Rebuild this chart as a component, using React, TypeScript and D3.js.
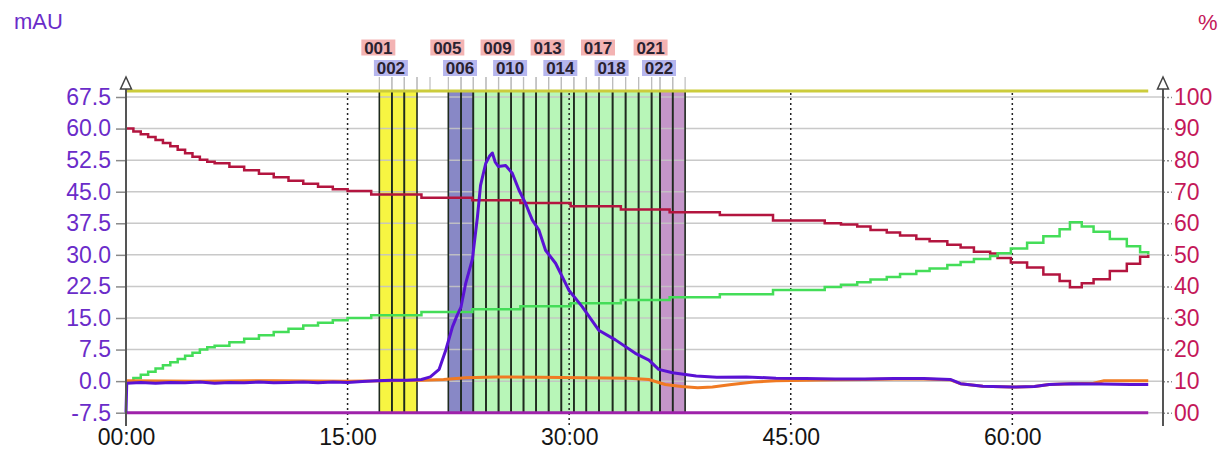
import React, { useEffect, useRef } from "react";
import * as d3 from "d3";

// axis ticks
const timeTicks = [0, 15, 30, 45, 60];
const timeTickLabels = ["00:00", "15:00", "30:00", "45:00", "60:00"];
const mauTicks = [-7.5, 0, 7.5, 15, 22.5, 30, 37.5, 45, 52.5, 60, 67.5];
const mauTickLabels = ["-7.5", "0.0", "7.5", "15.0", "22.5", "30.0", "37.5", "45.0", "52.5", "60.0", "67.5"];
const pctTicks = [0, 10, 20, 30, 40, 50, 60, 70, 80, 90, 100];
const pctTickLabels = ["00", "10", "20", "30", "40", "50", "60", "70", "80", "90", "100"];

// UV trace (mAU), minutes
const uvTime = [0, 0.05, 1, 2, 3, 4, 5, 6, 7, 8, 9, 10, 11, 12, 13, 14, 15, 16, 17, 18, 19, 20, 20.6, 21.2, 21.65, 22.1, 22.4, 22.67, 23.0, 23.45, 23.79, 24.0, 24.35, 24.6, 24.8, 25.0, 25.2, 25.7, 26.15, 26.6, 27.05, 27.5, 27.95, 28.4, 29.08, 29.98, 30.88, 32.0, 33.13, 34.48, 35.4, 36.06, 37.0, 38.6, 40, 42, 44, 46, 48, 50, 52, 54, 55.8, 56.5, 58, 60, 61.5, 62.5, 64, 66, 68, 69.2];
const uvValue = [-7.5, -0.5, -0.3, -0.5, -0.3, -0.4, -0.2, -0.5, -0.3, -0.4, -0.2, -0.4, -0.3, -0.2, -0.4, -0.2, -0.3, -0.1, 0.1, 0.2, 0.2, 0.4, 1.0, 2.8, 7.4, 12.9, 15.5, 17.5, 23.3, 29.0, 39.0, 46.5, 51.7, 53.4, 54.2, 52.0, 51.0, 51.2, 49.4, 45.4, 42.2, 38.3, 35.9, 31.1, 28.0, 21.6, 17.7, 12.1, 9.8, 6.6, 5.0, 2.8, 2.0, 1.2, 0.9, 1.0, 0.7, 0.6, 0.5, 0.5, 0.6, 0.6, 0.4, -0.6, -1.2, -1.4, -1.3, -0.8, -0.6, -0.7, -0.8, -0.8];

// orange trace (mAU scale)
const condTime = [0, 5, 10, 15, 20, 21.5, 23, 25, 28, 31, 34, 35.4, 36.5, 37.6, 38.7, 39.7, 41.0, 42.5, 44, 46, 48, 50, 52, 54, 55.8, 56.5, 58, 60, 61.5, 62.5, 64, 65.5, 66.2, 69.2];
const condValue = [0.1, 0.0, 0.1, 0.0, 0.2, 0.4, 0.8, 1.0, 0.9, 0.8, 0.7, 0.4, -0.8, -1.3, -1.6, -1.4, -0.8, -0.2, 0.1, 0.2, 0.3, 0.4, 0.5, 0.5, 0.3, -0.6, -1.2, -1.4, -1.3, -0.8, -0.6, -0.5, 0.1, 0.1];

// red gradient trace (%)
const redTime = [0, 0.5, 1, 1.5, 2, 2.5, 3, 3.5, 4, 4.5, 5, 5.5, 6, 7, 8, 9, 10, 11, 12, 13, 14, 15, 16.6, 20, 23.45, 26.7, 30.1, 33.5, 36.8, 40.2, 43.8, 47.3, 48.4, 49.5, 50.4, 51.5, 52.4, 53.5, 54.4, 55.6, 56.5, 57.4, 58.5, 59.0, 59.9, 61.0, 62.1, 63.2, 63.9, 64.7, 65.5, 66.6, 67.75, 68.65, 69.2];
const redValue = [90, 89.1, 88.2, 87.3, 86.4, 85.4, 84.4, 83.3, 82.2, 81.1, 80.1, 79.5, 79.0, 77.9, 76.8, 75.7, 74.6, 73.5, 72.5, 71.6, 70.8, 70.2, 69.1, 68.1, 67.3, 66.4, 65.4, 64.4, 63.5, 62.6, 60.9, 60.0, 59.6, 59.0, 57.9, 57.1, 56.1, 55.0, 54.3, 53.2, 52.3, 51.0, 50.4, 49.0, 47.6, 46.0, 43.8, 41.7, 39.7, 41.0, 42.3, 44.9, 47.2, 49.4, 50.0];

// green gradient trace (%)
const greenTime = [0, 0.5, 1, 1.5, 2, 2.5, 3, 3.5, 4, 4.5, 5, 5.5, 6, 7, 8, 9, 10, 11, 12, 13, 14, 15, 16.6, 20, 23.45, 26.7, 30.1, 33.5, 36.8, 40.2, 43.8, 47.3, 48.4, 49.5, 50.4, 51.5, 52.4, 53.5, 54.4, 55.6, 56.5, 57.4, 58.5, 59.0, 59.9, 61.0, 62.1, 63.2, 63.9, 64.7, 65.5, 66.6, 67.75, 68.65, 69.2];
const greenValue = [10, 11.0, 12.0, 13.0, 14.0, 15.0, 16.0, 17.0, 18.0, 19.0, 20.0, 20.7, 21.2, 22.3, 23.4, 24.5, 25.6, 26.6, 27.6, 28.5, 29.3, 30.0, 30.9, 31.9, 32.8, 33.7, 34.7, 35.7, 36.6, 37.5, 38.9, 39.8, 40.5, 41.3, 42.2, 43.0, 43.9, 44.9, 45.7, 46.8, 47.7, 48.7, 49.6, 50.5, 52.0, 53.8, 55.9, 58.1, 60.3, 59.0, 57.3, 55.0, 52.7, 50.8, 50.2];

// flat traces: top (%), bottom (mAU)
const topTraceTime = [0, 69.2];
const topTraceValue = [101.9, 101.9];
const bottomTraceTime = [0, 69.2];
const bottomTraceValue = [-7.5, -7.5];

// fractions
const fractionNames = ["001", "002", "003", "004", "005", "006", "007", "008", "009", "010", "011", "012", "013", "014", "015", "016", "017", "018", "019", "020", "021", "022", "023"];
const fractionStart = [17.15, 18.0, 18.84, 19.7, 21.82, 22.68, 23.51, 24.37, 25.22, 26.07, 26.91, 27.76, 28.61, 29.47, 30.32, 31.16, 32.02, 32.94, 33.82, 34.7, 35.58, 36.15, 37.01];
const fractionEnd = [18.0, 18.84, 19.7, 20.58, 22.68, 23.51, 24.37, 25.22, 26.07, 26.91, 27.76, 28.61, 29.47, 30.32, 31.16, 32.02, 32.94, 33.82, 34.7, 35.58, 36.15, 37.01, 37.85];
const fractionGroup = ["a", "a", "a", "none", "b", "b", "c", "c", "c", "c", "c", "c", "c", "c", "c", "c", "c", "c", "c", "c", "c", "d", "d"];
const labeledFractions = ["001", "002", "005", "006", "009", "010", "013", "014", "017", "018", "021", "022"];

const groupColor: Record<string, string> = { a: "#f7f542", b: "#8888c6", c: "#b8f6b8", d: "#c496c9" };

const FONT = "Liberation Sans, Arial, sans-serif";

export default function App() {
  const ref = useRef<SVGSVGElement>(null);

  useEffect(() => {
    const width = 1227;
    const height = 452;
    const svg = d3.select(ref.current).attr("width", width).attr("height", height);
    svg.selectAll("*").remove();

    const left = 126, right = 1163;
    const top = 97, bottom = 412.7;

    const x = d3.scaleLinear().domain([0, 70.2]).range([left, right]);
    const yMau = d3.scaleLinear().domain([-7.5, 67.5]).range([bottom, top]);
    const yPct = d3.scaleLinear().domain([0, 100]).range([bottom, top]);
    const headerY = yPct(101.9);

    svg.append("rect").attr("width", width).attr("height", height).attr("fill", "#fff");

    // fraction fills
    const fr = fractionNames.map((n, i) => ({ n, s: fractionStart[i], e: fractionEnd[i], g: fractionGroup[i] }));
    svg.append("g").selectAll("rect").data(fr.filter(d => d.g !== "none")).join("rect")
      .attr("x", d => x(d.s)).attr("width", d => x(d.e) - x(d.s))
      .attr("y", headerY).attr("height", bottom - headerY)
      .attr("fill", d => groupColor[d.g]);

    // horizontal grid
    svg.append("g").selectAll("line").data(mauTicks).join("line")
      .attr("x1", left).attr("x2", right)
      .attr("y1", d => yMau(d)).attr("y2", d => yMau(d))
      .attr("stroke", "#c4c4c4").attr("stroke-width", 1.5).attr("opacity", 0.9);

    // dotted time grid
    svg.append("g").selectAll("line").data(timeTicks.filter(t => t > 0)).join("line")
      .attr("x1", d => x(d)).attr("x2", d => x(d))
      .attr("y1", headerY + 2).attr("y2", bottom + 13)
      .attr("stroke", "#222").attr("stroke-width", 1.5).attr("stroke-dasharray", "2,3");

    // fraction boundary lines inside plot
    const darkEdges: number[] = [];
    fr.filter(d => d.g !== "none").forEach(d => { darkEdges.push(d.s); darkEdges.push(d.e); });
    svg.append("g").selectAll("line").data(darkEdges).join("line")
      .attr("x1", d => x(d)).attr("x2", d => x(d))
      .attr("y1", headerY).attr("y2", bottom)
      .attr("stroke", "#1e2a1e").attr("stroke-width", 1.6);

    // fraction ticks above header
    const allEdges: number[] = [];
    fr.forEach(d => { allEdges.push(d.s); allEdges.push(d.e); });
    svg.append("g").selectAll("line").data(allEdges).join("line")
      .attr("x1", d => x(d)).attr("x2", d => x(d))
      .attr("y1", 77).attr("y2", headerY)
      .attr("stroke", "#bdbdbd").attr("stroke-width", 1.2);

    // fraction labels
    const lab = svg.append("g");
    labeledFractions.forEach((n, i) => {
      const idx = fractionNames.indexOf(n);
      const cx = x(fractionStart[idx]) - 1;
      const cy = i % 2 === 0 ? 47.5 : 68;
      lab.append("rect").attr("x", cx - 17).attr("y", cy - 8).attr("width", 34).attr("height", 16)
        .attr("fill", i % 2 === 0 ? "#f3b3b3" : "#b6b6ee");
      lab.append("text").attr("x", cx).attr("y", cy + 6).attr("text-anchor", "middle")
        .attr("font-family", FONT).attr("font-size", 17).attr("font-weight", "bold")
        .attr("fill", "#2a2230").text(n);
    });

    const line = (xs: number[], ys: number[], ys2: (v: number) => number, curve: d3.CurveFactory) =>
      d3.line<number>().x((_, i) => x(xs[i])).y((v) => ys2(v)).curve(curve)(ys);

    // flat traces
    svg.append("path").attr("d", line(topTraceTime, topTraceValue, yPct, d3.curveLinear))
      .attr("fill", "none").attr("stroke", "#cccc3c").attr("stroke-width", 3);
    svg.append("path").attr("d", line(bottomTraceTime, bottomTraceValue, yMau, d3.curveLinear))
      .attr("fill", "none").attr("stroke", "#9e22aa").attr("stroke-width", 3);

    // gradient traces
    svg.append("path").attr("d", line(redTime, redValue, yPct, d3.curveStepAfter))
      .attr("fill", "none").attr("stroke", "#b3153f").attr("stroke-width", 2.5);
    svg.append("path").attr("d", line(greenTime, greenValue, yPct, d3.curveStepAfter))
      .attr("fill", "none").attr("stroke", "#44dd58").attr("stroke-width", 2.5);

    // orange + UV
    svg.append("path").attr("d", line(condTime, condValue, yMau, d3.curveLinear))
      .attr("fill", "none").attr("stroke", "#f07a22").attr("stroke-width", 3);
    svg.append("path").attr("d", line(uvTime, uvValue, yMau, d3.curveLinear))
      .attr("fill", "none").attr("stroke", "#5a12d4").attr("stroke-width", 3).attr("stroke-linejoin", "round");

    // left axis
    const la = svg.append("g").attr("transform", `translate(${left},0)`)
      .call(d3.axisLeft(yMau).tickValues(mauTicks).tickFormat((_, i) => mauTickLabels[i]).tickSize(10).tickPadding(5));
    la.select(".domain").remove();
    la.attr("font-size", 23).attr("font-family", FONT);
    la.selectAll("line").attr("stroke", "#8a8a8a").attr("stroke-width", 1.5);
    la.selectAll("text").attr("fill", "#6a2cc9");

    // right axis
    const ra = svg.append("g").attr("transform", `translate(${right},0)`)
      .call(d3.axisRight(yPct).tickValues(pctTicks).tickFormat((_, i) => pctTickLabels[i]).tickSize(9).tickPadding(2));
    ra.select(".domain").remove();
    ra.attr("font-size", 23).attr("font-family", FONT);
    ra.selectAll("line").attr("stroke", "#8a8a8a").attr("stroke-width", 1.5).attr("stroke-dasharray", "2,2");
    ra.selectAll("text").attr("fill", "#c4185a");

    // bottom axis labels
    const ba = svg.append("g").attr("transform", `translate(0,${bottom})`)
      .call(d3.axisBottom(x).tickValues(timeTicks).tickFormat((_, i) => timeTickLabels[i]).tickSize(12).tickPadding(4));
    ba.select(".domain").remove();
    ba.selectAll("line").remove();
    ba.attr("font-size", 23).attr("font-family", FONT);
    ba.selectAll("text").attr("fill", "#151515");

    // axis lines with hollow arrows
    [left, right].forEach(ax => {
      svg.append("line").attr("x1", ax).attr("x2", ax).attr("y1", 89).attr("y2", 426)
        .attr("stroke", "#555").attr("stroke-width", 2);
      svg.append("path").attr("d", `M${ax},77 L${ax - 5.5},89 L${ax + 5.5},89 Z`)
        .attr("fill", "#fff").attr("stroke", "#444").attr("stroke-width", 1.5);
    });

    // unit titles
    svg.append("text").attr("x", 14).attr("y", 29).attr("font-family", FONT).attr("font-size", 22)
      .attr("fill", "#6a2cc9").text("mAU");
    svg.append("text").attr("x", 1198).attr("y", 30).attr("font-family", FONT).attr("font-size", 22)
      .attr("fill", "#c4185a").text("%");
  }, []);

  return <svg ref={ref} style={{ position: "absolute", left: 0, top: 0 }} />;
}
